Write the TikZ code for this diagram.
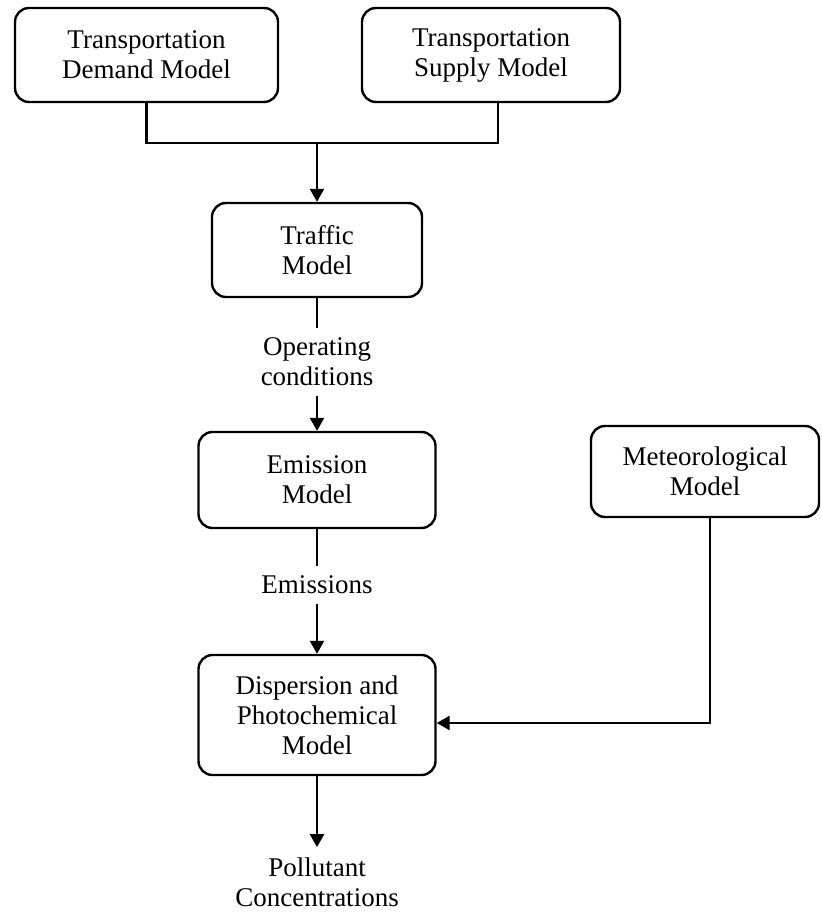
\documentclass[tikz,border=0pt]{standalone}
\usepackage{fontspec}
\setmainfont{Liberation Serif}
\usetikzlibrary{positioning,arrows.meta,calc}
\tikzset{
>={Triangle[length=6.5pt,width=7pt]},
  modelbox/.style={
    rectangle,
    rounded corners=7pt,
    draw=black, line width=1.2pt,
    inner sep=0pt,
    align=center,
    font=\fontsize{13.5}{15}\selectfont},
  flowtext/.style={
    inner sep=5pt,
    align=center,
    font=\fontsize{13.5}{15}\selectfont},
  line/.style={draw, line width=1.2pt},
}

\begin{document}
\begin{tikzpicture}[x=0.5pt,y=-0.5pt]
  \useasboundingbox (0,0) rectangle (821,913);
  % models
  \node[modelbox, minimum width=131.5pt, minimum height=47pt] (tdemand) at (146.5,55) {Transportation\\Demand Model};
  \node[modelbox, minimum width=129pt, minimum height=47pt] (tsupply) at (491,55) {Transportation\\Supply Model};
  \node[modelbox, minimum width=105pt, minimum height=47pt] (traffic) at (317,250) {Traffic\\Model};
  \node[modelbox, minimum width=118.5pt, minimum height=48pt] (emission) at (317,480) {Emission\\Model};
  \node[modelbox, minimum width=118.5pt, minimum height=60pt] (disper) at (317,715) {Dispersion and\\Photochemical\\Model};
  \node[modelbox, minimum width=114pt, minimum height=45.5pt] (meteo) at (705,471.5) {Meteorological\\Model};
  % labels between models
  \node[flowtext] (opcond) at (317,362) {Operating\\conditions};
  \node[flowtext] (emis) at (317,585) {Emissions};
  \node[flowtext] (pollut) at (317,882) {Pollutant\\Concentrations};
  % connectors
  \coordinate (merge) at (317,143);
  \draw[line] (tdemand.south) |- (merge) -| ([xshift=3.5pt]tsupply.south);
  \draw[line,->] (merge) -- (traffic.north);
  \draw[line] (traffic) -- (opcond);
  \draw[line,->] (opcond) -- (emission);
  \draw[line] (emission) -- (emis);
  \draw[line,->] (emis) -- (disper);
  \draw[line,->] (disper) -- (pollut);
  \draw[line,->] ([xshift=2.5pt]meteo.south) |- ([yshift=-4pt]disper.east);
\end{tikzpicture}
\end{document}
